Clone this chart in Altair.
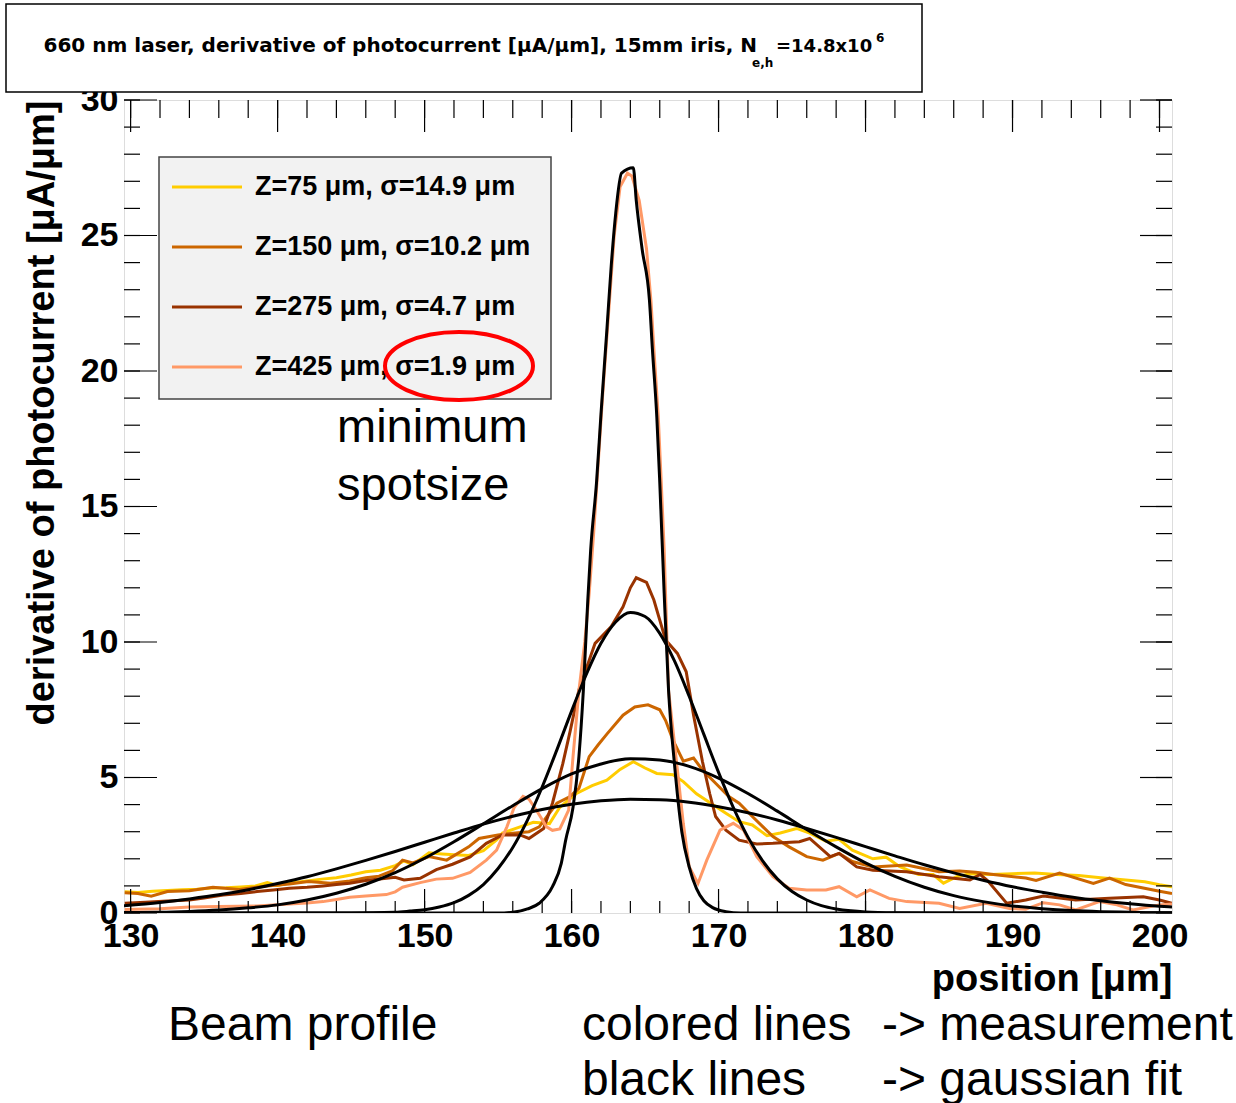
import altair as alt
import pandas as pd

# ---------------- data ----------------
SERIES = ["Z=75 \u03bcm, \u03c3=14.9 \u03bcm", "Z=150 \u03bcm, \u03c3=10.2 \u03bcm",
          "Z=275 \u03bcm, \u03c3=4.7 \u03bcm", "Z=425 \u03bcm, \u03c3=1.9 \u03bcm"]
COLORS = ["#ffcc00", "#cc6600", "#993300", "#ff9966"]

z75_x = [129.6, 130.5, 131.5, 132.5, 133.5, 134.5, 135.5, 136.5, 137.5, 138.5, 139.3, 140.0, 141.0, 142.0,
         143.0, 144.0, 145.0, 146.0, 147.0, 148.0, 148.6, 149.2, 150.3, 151.2, 152.0, 153.0, 154.0, 154.9,
         155.3, 156.5, 157.4, 158.5, 159.2, 160.3, 161.4, 162.4, 163.3, 164.2, 165.0, 165.8, 166.9, 167.6,
         168.5, 169.6, 170.5, 171.4, 172.3, 173.3, 174.2, 175.3, 176.2, 177.3, 178.2, 179.1, 180.5, 181.4,
         182.3, 183.6, 184.6, 185.3, 186.2, 187.1, 188.5, 190.0, 191.5, 193.0, 194.5, 196.0, 197.7, 199.0,
         200.0, 200.85]
z75_y = [0.78, 0.76, 0.80, 0.83, 0.86, 0.88, 0.92, 0.93, 0.96, 1.00, 1.12, 1.02, 1.12, 1.18,
         1.25, 1.30, 1.40, 1.52, 1.58, 1.75, 1.92, 1.78, 2.22, 2.18, 2.15, 2.12, 2.30, 2.70,
         2.95, 3.18, 3.35, 3.30, 3.90, 4.40, 4.70, 4.90, 5.30, 5.58, 5.35, 5.15, 5.10, 4.85,
         4.40, 4.00, 3.68, 3.37, 3.25, 2.85, 2.95, 3.12, 2.95, 2.65, 2.72, 2.32, 2.00, 2.06,
         1.72, 1.42, 1.42, 1.10, 1.34, 1.45, 1.42, 1.45, 1.48, 1.42, 1.38, 1.30, 1.22, 1.15,
         1.04, 0.97]

z150_x = [129.6, 130.5, 131.4, 132.5, 134.0, 135.6, 137.4, 139.3, 140.8, 142.1, 143.6, 144.9, 146.0, 146.9,
          147.8, 148.5, 149.2, 150.3, 151.5, 153.0, 153.7, 155.0, 156.0, 157.1, 157.8, 159.0, 159.9, 160.5,
          161.2, 161.8, 162.4, 163.5, 164.3, 165.2, 166.0, 166.4, 166.9, 167.6, 168.3, 168.9, 169.8, 170.7,
          171.4, 172.3, 173.7, 174.8, 176.0, 177.1, 178.2, 179.1, 180.5, 182.8, 185.0, 186.4, 187.5, 188.7,
          190.9, 191.6, 193.2, 195.5, 196.6, 197.7, 200.0, 200.85]
z150_y = [0.75, 0.72, 0.62, 0.79, 0.82, 0.95, 0.87, 1.00, 1.07, 1.16, 1.10, 1.18, 1.30, 1.36,
          1.55, 1.95, 1.85, 2.08, 1.95, 2.44, 2.75, 2.88, 2.94, 3.00, 3.18, 4.05, 4.30, 4.60,
          5.77, 6.20, 6.60, 7.30, 7.60, 7.68, 7.50, 7.10, 6.38, 5.60, 5.72, 5.28, 4.79, 4.30,
          4.05, 3.56, 2.82, 2.44, 2.08, 1.95, 2.20, 1.90, 1.70, 1.77, 1.52, 1.55, 1.50, 1.42,
          1.29, 1.20, 1.47, 1.09, 1.29, 1.05, 0.80, 0.72]

z275_x = [129.6, 131.0, 132.5, 134.0, 135.0, 136.3, 137.5, 138.6, 139.7, 140.8, 142.0, 143.1, 144.0, 144.9,
          146.0, 147.4, 148.0, 148.6, 149.7, 150.8, 151.9, 153.1, 154.2, 155.3, 156.5, 157.1, 158.1, 158.7,
          159.4, 159.9, 160.5, 161.6, 162.7, 163.5, 164.0, 164.4, 165.1, 165.6, 166.4, 167.2, 167.8, 168.3,
          168.9, 169.4, 169.8, 170.5, 171.4, 172.6, 173.7, 175.5, 176.2, 177.6, 178.2, 179.4, 180.5, 182.8,
          185.0, 187.1, 187.8, 188.3, 189.6, 190.9, 192.1, 194.3, 196.6, 198.9, 200.0, 200.85]
z275_y = [0.36, 0.40, 0.44, 0.48, 0.55, 0.66, 0.72, 0.79, 0.85, 0.91, 0.95, 1.00, 1.05, 1.10,
          1.20, 1.28, 1.32, 1.22, 1.28, 1.60, 1.80, 2.07, 2.57, 2.88, 2.88, 2.75, 3.12, 4.05,
          5.50, 6.70, 8.23, 9.95, 10.57, 11.30, 12.00, 12.37, 12.20, 11.55, 10.07, 9.58, 8.90, 7.30,
          5.60, 4.40, 3.56, 3.06, 2.69, 2.55, 2.57, 2.63, 2.75, 2.08, 2.20, 1.70, 1.58, 1.52,
          1.34, 1.22, 1.42, 1.20, 0.36, 0.48, 0.63, 0.48, 0.54, 0.60, 0.48, 0.36]

z425_x = [129.6, 132.0, 134.0, 136.0, 138.6, 140.8, 142.0, 143.1, 144.0, 144.9, 146.0, 147.4, 148.0, 148.5,
          149.7, 150.8, 151.9, 153.1, 154.2, 154.9, 155.6, 156.1, 156.7, 157.1, 157.6, 158.3, 158.7, 159.2,
          159.8, 160.1, 160.5, 160.9, 161.2, 161.5, 161.8, 162.1, 162.5, 162.9, 163.3, 163.8, 164.1, 164.6,
          165.1, 165.4, 165.6, 165.9, 166.1, 166.3, 166.6, 167.1, 167.6, 168.0, 168.6, 169.2, 170.1, 171.0,
          171.7, 172.6, 173.7, 174.8, 176.0, 177.3, 178.2, 179.4, 180.3, 181.6, 182.8, 185.0, 186.4, 188.2,
          189.8, 190.9, 192.1, 193.2, 194.3, 195.9, 197.1, 198.2, 199.3, 200.0, 200.85]
z425_y = [0.13, 0.16, 0.22, 0.24, 0.26, 0.33, 0.37, 0.42, 0.50, 0.58, 0.63, 0.68, 0.78, 0.95,
          1.12, 1.25, 1.28, 1.50, 1.95, 2.32, 3.18, 3.90, 4.30, 4.20, 3.80, 3.18, 3.05, 3.10,
          3.80, 5.77, 8.20, 10.0, 11.8, 14.0, 16.5, 19.0, 22.0, 25.0, 26.8, 27.3, 27.2, 26.3,
          24.5, 22.6, 20.8, 18.3, 15.9, 13.4, 8.20, 5.77, 3.31, 1.71, 1.09, 1.95, 3.06, 3.31,
          3.06, 2.08, 1.34, 0.91, 0.85, 0.85, 0.97, 0.60, 0.85, 0.54, 0.42, 0.36, 0.17, 0.36,
          0.17, 0.14, 0.38, 0.30, 0.11, 0.42, 0.30, 0.11, 0.23, 0.30, 0.33]

# gaussian fits (black)
fitA_x = [129.55, 132, 134, 136, 138, 140, 142, 144, 146, 148, 150, 152, 154, 156, 158, 160, 162, 164, 166,
          168, 170, 172, 174, 176, 178, 180, 182, 184, 186, 188, 190, 192, 194, 196, 198, 200, 200.85]
fitA_y = [0.27, 0.39, 0.52, 0.67, 0.86, 1.09, 1.34, 1.63, 1.94, 2.27, 2.61, 2.95, 3.28, 3.57, 3.82, 4.01, 4.14,
          4.20, 4.18, 4.09, 3.92, 3.70, 3.43, 3.12, 2.79, 2.45, 2.11, 1.78, 1.48, 1.21, 0.97, 0.77, 0.59, 0.45,
          0.34, 0.25, 0.22]
fitB_x = fitA_x
fitB_y = [0.02, 0.03, 0.06, 0.11, 0.19, 0.30, 0.48, 0.73, 1.06, 1.49, 2.02, 2.63, 3.29, 3.96, 4.59, 5.13, 5.50,
          5.69, 5.65, 5.41, 4.98, 4.41, 3.76, 3.08, 2.44, 1.85, 1.35, 0.95, 0.64, 0.42, 0.26, 0.16, 0.09, 0.05,
          0.03, 0.01, 0.01]
fitC_x = [129.55, 145, 148, 149, 150, 151, 152, 153, 154, 155, 156, 157, 158, 159, 160, 161, 162, 163, 164, 165,
          166, 167, 168, 169, 170, 171, 172, 173, 174, 175, 176, 177, 178, 179, 180, 182, 185, 200.85]
fitC_y = [0.0, 0.0, 0.03, 0.07, 0.12, 0.22, 0.38, 0.65, 1.05, 1.64, 2.42, 3.43, 4.65, 6.02, 7.45, 8.80, 9.95,
          10.74, 11.09, 10.94, 10.32, 9.30, 8.00, 6.59, 5.19, 3.90, 2.80, 1.92, 1.26, 0.79, 0.48, 0.27, 0.15,
          0.08, 0.04, 0.01, 0.0, 0.0]
fitD_x = [129.55, 155.0, 156.0, 157.0, 157.8, 158.7, 159.3, 159.6, 160.1, 160.5, 160.8, 161.1, 161.3, 161.7,
          162.0, 162.4, 162.7, 163.0, 163.4, 164.2, 164.4, 164.8, 165.3, 165.5, 165.8, 166.0, 166.3, 166.6,
          167.0, 167.5, 168.0, 168.5, 169.0, 169.6, 170.5, 171.5, 200.85]
fitD_y = [0.0, 0.0, 0.03, 0.15, 0.36, 0.97, 1.83, 2.69, 3.90, 5.77, 8.20, 11.5, 13.4, 15.9,
          18.4, 21.5, 23.9, 25.8, 27.3, 27.5, 26.3, 24.5, 22.6, 20.8, 18.3, 15.9, 11.8, 8.20,
          5.50, 3.00, 1.70, 0.90, 0.45, 0.20, 0.05, 0.0, 0.0]

X_DOMAIN = [129.55, 200.85]
Y_DOMAIN = [0, 30]
X_LABELS = [130, 140, 150, 160, 170, 180, 190, 200]
Y_LABELS = [0, 5, 10, 15, 20, 25, 30]
X_MINOR = list(range(130, 201, 2))
Y_MINOR = list(range(0, 31, 1))

TITLE_MAIN = "660 nm laser, derivative of photocurrent [\u03bcA/\u03bcm], 15mm iris, N"
TITLE_SUB = "e,h"
TITLE_REST = "=14.8x10"
TITLE_SUP = "6"
Y_TITLE = "derivative of photocurrent [\u03bcA/\u03bcm]"
X_TITLE = "position [\u03bcm]"
NOTE_MIN = ["minimum", "spotsize"]
NOTES_BOTTOM = ["Beam profile", "colored lines", "-> measurement", "black lines", "-> gaussian fit"]

# ---------------- tables ----------------
meas_rows = []
for name, xs_, ys_ in zip(SERIES, [z75_x, z150_x, z275_x, z425_x], [z75_y, z150_y, z275_y, z425_y]):
    for a, b in zip(xs_, ys_):
        meas_rows.append({"x": a, "y": b, "series": name})
meas_df = pd.DataFrame(meas_rows)

fit_rows = []
for name, xs_, ys_ in zip(["fitA", "fitB", "fitC", "fitD"], [fitA_x, fitB_x, fitC_x, fitD_x],
                          [fitA_y, fitB_y, fitC_y, fitD_y]):
    for a, b in zip(xs_, ys_):
        fit_rows.append({"x": a, "y": b, "fit": name})
fit_df = pd.DataFrame(fit_rows)

W, H = 1048, 813
FONT = "Liberation Sans"
xs = alt.Scale(domain=X_DOMAIN, nice=False, zero=False)
ys = alt.Scale(domain=Y_DOMAIN, nice=False)

x_axis = alt.Axis(values=X_LABELS, ticks=False, domain=False, grid=False, labelFontSize=34,
                  labelFontWeight="bold", labelFont=FONT, labelColor="black", labelPadding=6,
                  labelFlush=False, title=X_TITLE, titleFont=FONT, titleFontSize=38,
                  titleFontWeight="bold", titleColor="black", titleX=W, titleY=77,
                  titleAlign="right", titleBaseline="alphabetic")
y_axis = alt.Axis(values=Y_LABELS, ticks=False, domain=False, grid=False, labelFontSize=34,
                  labelFontWeight="bold", labelFont=FONT, labelColor="black", labelPadding=6,
                  labelFlush=False, title=Y_TITLE, titleFont=FONT, titleFontSize=38,
                  titleFontWeight="bold", titleColor="black", titleX=-82, titleY=0,
                  titleAngle=-90, titleAlign="right", titleBaseline="middle")

meas = alt.Chart(meas_df).mark_line(strokeWidth=3, clip=True).encode(
    x=alt.X("x:Q", scale=xs, axis=x_axis),
    y=alt.Y("y:Q", scale=ys, axis=y_axis),
    color=alt.Color("series:N", scale=alt.Scale(domain=SERIES, range=COLORS), legend=None),
)

fits = alt.Chart(fit_df).mark_line(strokeWidth=3, clip=True, color="black", interpolate="monotone").encode(
    x=alt.X("x:Q", scale=xs),
    y=alt.Y("y:Q", scale=ys),
    detail="fit:N",
)

# inward ROOT-style ticks
xminor = pd.DataFrame({"v": X_MINOR})
xmajor = pd.DataFrame({"v": X_LABELS})
yminor = pd.DataFrame({"v": Y_MINOR})
ymajor = pd.DataFrame({"v": Y_LABELS})
tick_layers = [
    alt.Chart(xminor).mark_rule(color="black", strokeWidth=1.2).encode(
        x=alt.X("v:Q", scale=xs), y=alt.value(H), y2=alt.value(H - 12)),
    alt.Chart(xmajor).mark_rule(color="black", strokeWidth=1.2).encode(
        x=alt.X("v:Q", scale=xs), y=alt.value(H), y2=alt.value(H - 24)),
    alt.Chart(xminor).mark_rule(color="black", strokeWidth=1.2).encode(
        x=alt.X("v:Q", scale=xs), y=alt.value(0), y2=alt.value(18)),
    alt.Chart(xmajor).mark_rule(color="black", strokeWidth=1.2).encode(
        x=alt.X("v:Q", scale=xs), y=alt.value(0), y2=alt.value(32)),
    alt.Chart(yminor).mark_rule(color="black", strokeWidth=1.2).encode(
        y=alt.Y("v:Q", scale=ys), x=alt.value(0), x2=alt.value(16)),
    alt.Chart(ymajor).mark_rule(color="black", strokeWidth=1.2).encode(
        y=alt.Y("v:Q", scale=ys), x=alt.value(0), x2=alt.value(33)),
    alt.Chart(yminor).mark_rule(color="black", strokeWidth=1.2).encode(
        y=alt.Y("v:Q", scale=ys), x=alt.value(W), x2=alt.value(W - 16)),
    alt.Chart(ymajor).mark_rule(color="black", strokeWidth=1.2).encode(
        y=alt.Y("v:Q", scale=ys), x=alt.value(W), x2=alt.value(W - 32)),
]


def one_row():
    return pd.DataFrame({"t": [0]})


def text_layer(t, x, y, size, weight="normal", align="left", baseline="alphabetic", color="black",
               font=FONT):
    return alt.Chart(pd.DataFrame({"t": [t]})).mark_text(
        font=font, fontSize=size, fontWeight=weight, align=align, baseline=baseline, color=color
    ).encode(x=alt.value(x), y=alt.value(y), text="t:N")


# title box (ROOT pave)
title_box = alt.Chart(one_row()).mark_rect(
    fill="white", stroke="black", strokeWidth=1.5).encode(
    x=alt.value(-118), x2=alt.value(798), y=alt.value(-96), y2=alt.value(-8))
TFONT = "DejaVu Sans"
title_layers = [
    title_box,
    text_layer(TITLE_MAIN, 633, -48, 20, "bold", align="right", font=TFONT),
    text_layer(TITLE_SUB, 628, -33, 12, "bold", font=TFONT),
    text_layer(TITLE_REST, 652, -48, 18, "bold", font=TFONT),
    text_layer(TITLE_SUP, 752, -58, 12, "bold", font=TFONT),
]

# legend box (ROOT TLegend)
LEG_ROWS = [87, 147, 207, 267]
legend_layers = [
    alt.Chart(one_row()).mark_rect(fill="#f2f2f2", stroke="#444444", strokeWidth=1.5).encode(
        x=alt.value(35), x2=alt.value(427), y=alt.value(57), y2=alt.value(299))
]
for name, col, ry in zip(SERIES, COLORS, LEG_ROWS):
    legend_layers.append(
        alt.Chart(one_row()).mark_rule(color=col, strokeWidth=3).encode(
            x=alt.value(48), x2=alt.value(118), y=alt.value(ry)))
    legend_layers.append(text_layer(name, 131, ry, 27, "bold", baseline="middle"))

ellipse = alt.Chart(one_row()).mark_point(
    shape="M -1 0 A 1 0.46 0 1 1 1 0 A 1 0.46 0 1 1 -1 0 Z", size=21904, filled=False,
    stroke="#ff0000", strokeWidth=4, opacity=1).encode(x=alt.value(335), y=alt.value(266))

note_layers = [
    text_layer(NOTE_MIN[0], 213, 342, 47),
    text_layer(NOTE_MIN[1], 213, 400, 47),
    text_layer(NOTES_BOTTOM[0], 44, 940, 48),
    text_layer(NOTES_BOTTOM[1], 458, 940, 48),
    text_layer(NOTES_BOTTOM[2], 758, 940, 48),
    text_layer(NOTES_BOTTOM[3], 458, 995, 48),
    text_layer(NOTES_BOTTOM[4], 758, 995, 48),
]

chart = alt.layer(
    meas, fits, *tick_layers, *title_layers, *legend_layers, ellipse, *note_layers
).properties(
    width=W, height=H,
    padding={"left": 124, "top": 100, "right": 64, "bottom": 190},
    autosize="none",
    background="white",
).configure_view(stroke="black", strokeWidth=2).configure(font=FONT)

chart.save("out.html", embed_options={"renderer": "svg", "actions": False})
